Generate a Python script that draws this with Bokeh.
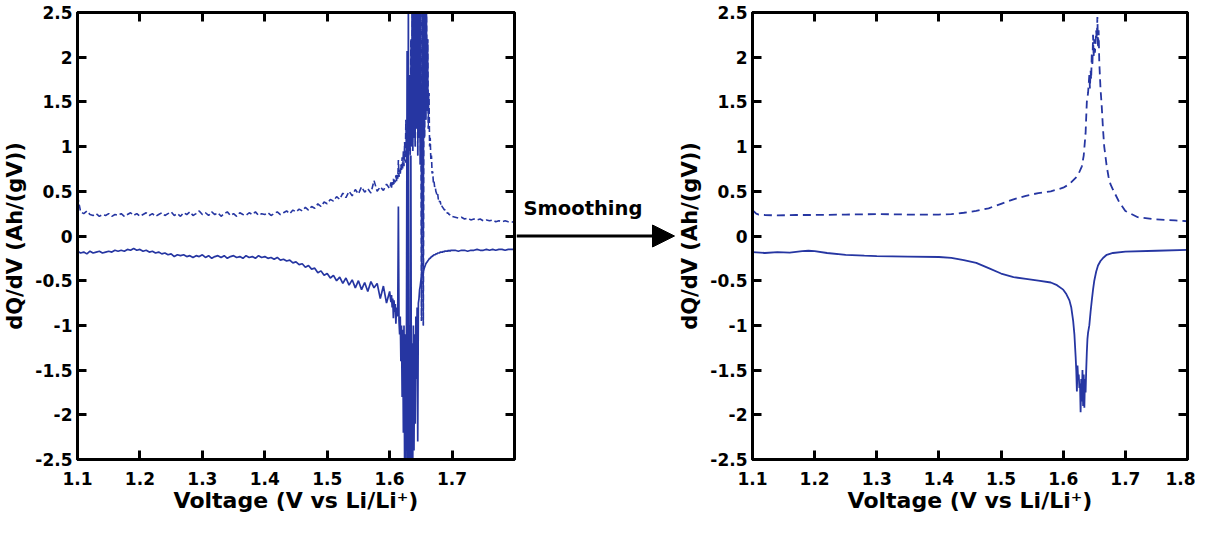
import numpy as np
from bokeh.plotting import figure
from bokeh.layouts import row
from bokeh.models import (Range1d, LinearAxis, FixedTicker, Arrow, NormalHead, Label,
                          CustomLabelingPolicy)
from bokeh.embed import file_html
from bokeh.resources import INLINE

BLUE = "#2636A2"
FONT = "DejaVu Sans"

# ---------------- tick labels ----------------
x_ticks_raw = [1.1, 1.2, 1.3, 1.4, 1.5, 1.6, 1.7]
x_tick_labels_raw = ["1.1", "1.2", "1.3", "1.4", "1.5", "1.6", "1.7"]
x_ticks_smooth = [1.1, 1.2, 1.3, 1.4, 1.5, 1.6, 1.7, 1.8]
x_tick_labels_smooth = ["1.1", "1.2", "1.3", "1.4", "1.5", "1.6", "1.7", "1.8"]
y_ticks = [-2.5, -2, -1.5, -1, -0.5, 0, 0.5, 1, 1.5, 2, 2.5]
y_tick_labels = ["-2.5", "-2", "-1.5", "-1", "-0.5", "0", "0.5", "1", "1.5", "2", "2.5"]

# ---------------- raw data (left panel) ----------------
# charge (dashed), 1.100-1.600 V every 5 mV
raw_charge_a = [
    0.45, 0.27, 0.25, 0.28, 0.24, 0.23, 0.25, 0.22, 0.24, 0.23,
    0.25, 0.22, 0.24, 0.23, 0.25, 0.22, 0.24, 0.26, 0.23, 0.25,
    0.22, 0.24, 0.26, 0.23, 0.25, 0.22, 0.24, 0.26, 0.23, 0.25,
    0.27, 0.23, 0.25, 0.22, 0.26, 0.24, 0.27, 0.23, 0.25, 0.28,
    0.24, 0.26, 0.23, 0.27, 0.24, 0.26, 0.22, 0.25, 0.27, 0.23,
    0.25, 0.22, 0.26, 0.24, 0.23, 0.26, 0.24, 0.27, 0.23, 0.25,
    0.24, 0.26, 0.23, 0.25, 0.27, 0.24, 0.26, 0.28, 0.25, 0.29,
    0.27, 0.30, 0.28, 0.32, 0.29, 0.33, 0.31, 0.36, 0.33, 0.38,
    0.36, 0.41, 0.39, 0.44, 0.41, 0.48, 0.43, 0.50, 0.45, 0.52,
    0.47, 0.55, 0.49, 0.53, 0.48, 0.62, 0.50, 0.55, 0.51, 0.58,
    0.53]
# charge, 1.601-1.700 V every 1 mV
raw_charge_b = [
    0.56, 0.60, 0.54, 0.62, 0.57, 0.64, 0.58, 0.63, 0.60, 0.68,
    0.61, 0.70, 0.64, 0.85, 0.66, 0.74, 0.68, 0.80, 0.72, 0.88,
    0.75, 0.95, 0.78, 1.05, 0.82, 1.30, 0.85, 1.15, 0.90, 1.40,
    0.95, 1.80, 0.90, 2.20, 1.00, 2.60, 0.95, 2.80, 1.10, 2.70,
    1.00, 2.90, 1.20, 2.60, 0.90, 2.90, 1.10, 2.80, 0.80, 2.70,
    -0.95, 1.20, 2.90, -1.00, 2.60, 1.10, 2.80, 1.30, 2.70, 1.40,
    2.20, 1.20, 1.60, 1.00, 1.10, 0.85, 0.90, 0.70, 0.72, 0.60,
    0.62, 0.55, 0.56, 0.50, 0.48, 0.45, 0.47, 0.41, 0.42, 0.38,
    0.39, 0.35, 0.36, 0.33, 0.32, 0.31, 0.30, 0.29, 0.29, 0.27,
    0.27, 0.26, 0.25, 0.26, 0.24, 0.24, 0.23, 0.23, 0.22, 0.22]
# charge, 1.705-1.800 V every 5 mV
raw_charge_c = [
    0.21, 0.20, 0.21, 0.19, 0.20, 0.18, 0.19, 0.18, 0.19, 0.17,
    0.18, 0.17, 0.18, 0.16, 0.17, 0.16, 0.17, 0.16, 0.16, 0.15]

# discharge (solid), same voltage grid
raw_discharge_a = [
    -0.17, -0.19, -0.18, -0.20, -0.17, -0.19, -0.18, -0.17, -0.19, -0.18,
    -0.17, -0.18, -0.16, -0.17, -0.16, -0.17, -0.15, -0.16, -0.14, -0.16,
    -0.15, -0.17, -0.16, -0.18, -0.17, -0.19, -0.18, -0.20, -0.19, -0.21,
    -0.20, -0.23, -0.21, -0.22, -0.21, -0.23, -0.22, -0.24, -0.22, -0.23,
    -0.21, -0.24, -0.22, -0.25, -0.23, -0.22, -0.24, -0.22, -0.25, -0.23,
    -0.22, -0.24, -0.23, -0.25, -0.22, -0.24, -0.23, -0.25, -0.22, -0.24,
    -0.23, -0.25, -0.24, -0.26, -0.24, -0.27, -0.26, -0.28, -0.27, -0.30,
    -0.29, -0.32, -0.31, -0.35, -0.33, -0.37, -0.36, -0.41, -0.39, -0.44,
    -0.42, -0.47, -0.44, -0.50, -0.46, -0.53, -0.47, -0.55, -0.49, -0.58,
    -0.50, -0.60, -0.52, -0.62, -0.51, -0.58, -0.53, -0.70, -0.56, -0.75,
    -0.62]
raw_discharge_b = [
    -0.68, -0.74, -0.66, -0.80, -0.70, -0.92, -0.72, -0.85, -0.76, -0.98,
    -0.80, -0.90, -0.84, 0.33, -0.95, -1.10, -0.90, -1.40, -1.00, -1.80,
    -1.05, -2.20, -1.00, -2.60, -1.10, -2.70, -0.95, 2.07, -2.80, 2.70,
    -2.70, -1.00, -2.80, 0.90, -2.70, -1.20, -2.60, -1.00, -2.40, -1.10,
    -2.10, -0.90, -1.60, -0.80, -2.30, -0.75, -0.70, -0.60, -0.56, -0.50,
    -0.47, -0.44, -0.42, -0.39, -0.37, -0.35, -0.33, -0.31, -0.30, -0.29,
    -0.28, -0.27, -0.26, -0.25, -0.25, -0.24, -0.23, -0.23, -0.22, -0.22,
    -0.21, -0.21, -0.21, -0.20, -0.20, -0.20, -0.19, -0.19, -0.19, -0.19,
    -0.18, -0.18, -0.18, -0.18, -0.18, -0.17, -0.18, -0.17, -0.17, -0.17,
    -0.17, -0.17, -0.17, -0.16, -0.17, -0.16, -0.17, -0.16, -0.16, -0.16]
raw_discharge_c = [
    -0.16, -0.17, -0.16, -0.16, -0.17, -0.16, -0.16, -0.15, -0.16, -0.16,
    -0.15, -0.16, -0.15, -0.16, -0.15, -0.15, -0.16, -0.15, -0.15, -0.15]

# ---------------- smoothed data (right panel) ----------------
smooth_charge_v = [
    1.100, 1.103, 1.106, 1.110, 1.120, 1.140, 1.170, 1.200, 1.250, 1.300,
    1.350, 1.400, 1.420, 1.440, 1.460, 1.480, 1.500, 1.520, 1.540, 1.560,
    1.580, 1.600, 1.610, 1.620, 1.625, 1.630, 1.633, 1.636, 1.638, 1.640,
    1.642, 1.643, 1.644, 1.645, 1.646, 1.647, 1.648, 1.649, 1.650, 1.651,
    1.652, 1.653, 1.654, 1.655, 1.656, 1.657, 1.658, 1.659, 1.660, 1.662,
    1.664, 1.666, 1.670, 1.673, 1.676, 1.680, 1.685, 1.690, 1.700, 1.720,
    1.750, 1.780, 1.800]
smooth_charge = [
    0.29, 0.27, 0.25, 0.24, 0.235, 0.23, 0.235, 0.235, 0.24, 0.245,
    0.24, 0.24, 0.245, 0.26, 0.28, 0.31, 0.36, 0.41, 0.45, 0.48,
    0.50, 0.54, 0.58, 0.65, 0.70, 0.78, 0.90, 1.15, 1.50, 1.60,
    1.80, 1.65, 1.85, 1.75, 2.05, 1.90, 2.25, 2.00, 2.20, 2.05,
    2.15, 2.30, 2.20, 2.45, 2.10, 2.30, 1.95, 1.80, 1.65, 1.45,
    1.20, 1.00, 0.78, 0.66, 0.58, 0.52, 0.45, 0.38, 0.28, 0.21,
    0.185, 0.175, 0.165]

smooth_discharge_v = [
    1.100, 1.120, 1.140, 1.160, 1.180, 1.190, 1.200, 1.220, 1.250, 1.280,
    1.300, 1.350, 1.400, 1.420, 1.440, 1.460, 1.480, 1.500, 1.520, 1.540,
    1.560, 1.580, 1.590, 1.600, 1.605, 1.610, 1.613, 1.616, 1.618, 1.620,
    1.621, 1.622, 1.623, 1.624, 1.625, 1.626, 1.627, 1.628, 1.629, 1.630,
    1.631, 1.632, 1.633, 1.634, 1.635, 1.636, 1.637, 1.638, 1.639, 1.640,
    1.642, 1.644, 1.646, 1.648, 1.650, 1.653, 1.656, 1.660, 1.665, 1.670,
    1.680, 1.700, 1.750, 1.800]
smooth_discharge = [
    -0.18, -0.19, -0.18, -0.185, -0.17, -0.165, -0.17, -0.19, -0.21, -0.22,
    -0.225, -0.23, -0.235, -0.245, -0.27, -0.30, -0.36, -0.42, -0.46, -0.48,
    -0.50, -0.52, -0.55, -0.60, -0.65, -0.72, -0.80, -0.95, -1.10, -1.35,
    -1.50, -1.74, -1.45, -1.60, -1.55, -1.70, -1.65, -1.97, -1.60, -1.85,
    -1.50, -1.90, -1.55, -1.92, -1.60, -1.75, -1.50, -1.30, -1.15, -1.08,
    -1.00, -0.85, -0.72, -0.60, -0.50, -0.40, -0.33, -0.28, -0.24, -0.21,
    -0.19, -0.175, -0.165, -0.155]

# annotation between the panels
arrow_text = "Smoothing"
arrow_level = 0.0          # the arrow sits on the dQ/dV = 0 level
text_level = 0.31

# voltage grids of the raw measurement
v_a = np.round(1.100 + 0.005 * np.arange(len(raw_charge_a)), 4)
v_b = np.round(1.601 + 0.001 * np.arange(len(raw_charge_b)), 4)
v_c = np.round(1.705 + 0.005 * np.arange(len(raw_charge_c)), 4)
raw_v = np.concatenate([v_a, v_b, v_c])
raw_charge = raw_charge_a + raw_charge_b + raw_charge_c
raw_discharge = raw_discharge_a + raw_discharge_b + raw_discharge_c
dense = (v_b >= 1.630) & (v_b <= 1.663)

H = 517
TOP = 12
BOTTOM = 58


def hidden_labels():
    return CustomLabelingPolicy(code="for (const i of indices) indices.unset(i)")


def style_panel(p, xticks, xlabels, ylabel):
    p.xgrid.visible = False
    p.ygrid.visible = False
    p.outline_line_color = "black"
    p.outline_line_width = 3
    xa = p.xaxis[0]
    ya = p.yaxis[0]
    xa.ticker = FixedTicker(ticks=xticks)
    ya.ticker = FixedTicker(ticks=y_ticks)
    xa.major_label_overrides = dict(zip(xticks, xlabels))
    ya.major_label_overrides = dict(zip(y_ticks, y_tick_labels))
    xa.axis_label = "Voltage (V vs Li/Li\u207a)"
    ya.axis_label = ylabel
    for ax in (xa, ya):
        ax.axis_line_width = 3
        ax.major_tick_in = 9
        ax.major_tick_out = 0
        ax.major_tick_line_width = 3
        ax.minor_tick_line_color = None
        ax.major_label_text_font = FONT
        ax.major_label_text_font_style = "bold"
        ax.major_label_text_font_size = "17px"
        ax.major_label_text_color = "black"
        ax.axis_label_text_font = FONT
        ax.axis_label_text_font_style = "bold"
        ax.axis_label_text_color = "black"
    xa.axis_label_text_font_size = "22px"
    ya.axis_label_text_font_size = "21px"
    xa.major_label_standoff = 12
    xa.axis_label_standoff = 0
    ya.major_label_standoff = 5
    ya.axis_label_standoff = 5
    # mirrored axes (ticks only, no labels)
    top = LinearAxis(ticker=FixedTicker(ticks=xticks))
    right = LinearAxis(ticker=FixedTicker(ticks=y_ticks))
    for ax in (top, right):
        ax.axis_line_width = 3
        ax.major_tick_in = 9
        ax.major_tick_out = 0
        ax.major_tick_line_width = 3
        ax.minor_tick_line_color = None
        ax.major_label_text_font_size = "0px"
        ax.major_label_standoff = 0
        ax.major_label_policy = hidden_labels()
    p.add_layout(top, "above")
    p.add_layout(right, "right")


# ---------------- left panel ----------------
p1 = figure(width=516, height=H, output_backend="svg", toolbar_location=None,
            x_range=Range1d(1.1, 1.8), y_range=Range1d(-2.5, 2.5),
            min_border_left=72, min_border_right=2, min_border_top=TOP,
            min_border_bottom=BOTTOM, background_fill_color="white",
            border_fill_color="white")
p1.line(raw_v, raw_charge, line_color=BLUE, line_width=1.6, line_dash="6 3")
p1.line(v_b[dense], np.array(raw_charge_b)[dense], line_color=BLUE, line_width=1.2)
p1.line(raw_v, raw_discharge, line_color=BLUE, line_width=1.7)
style_panel(p1, x_ticks_raw, x_tick_labels_raw, "dQ/dV (Ah/(gV))")

# ---------------- middle (arrow) ----------------
pm = figure(width=159, height=H, output_backend="svg", toolbar_location=None,
            x_range=Range1d(0, 159), y_range=Range1d(-2.5, 2.5),
            x_axis_type=None, y_axis_type=None, min_border_left=0,
            min_border_right=0, min_border_top=TOP, min_border_bottom=BOTTOM,
            background_fill_color="white", border_fill_color="white")
pm.outline_line_color = None
pm.xgrid.visible = False
pm.ygrid.visible = False
pm.add_layout(Arrow(x_start=0, y_start=arrow_level, x_end=158, y_end=arrow_level,
                    line_width=3, line_color="black",
                    end=NormalHead(size=22, fill_color="black", line_color="black")))
pm.add_layout(Label(x=7, y=text_level, text=arrow_text, text_font=FONT,
                    text_font_style="bold", text_font_size="19.5px",
                    text_baseline="middle", text_align="left", text_color="black"))

# ---------------- right panel ----------------
p2 = figure(width=520, height=H, output_backend="svg", toolbar_location=None,
            x_range=Range1d(1.1, 1.8), y_range=Range1d(-2.5, 2.5),
            min_border_left=70, min_border_right=8, min_border_top=TOP,
            min_border_bottom=BOTTOM, background_fill_color="white",
            border_fill_color="white")
p2.line(smooth_charge_v, smooth_charge, line_color=BLUE, line_width=1.8, line_dash="8 5")
p2.line(smooth_discharge_v, smooth_discharge, line_color=BLUE, line_width=1.8)
style_panel(p2, x_ticks_smooth, x_tick_labels_smooth, "dQ/dV (Ah/(gV))")

layout = row(p1, pm, p2)
open("out.html", "w").write(file_html(layout, INLINE))
